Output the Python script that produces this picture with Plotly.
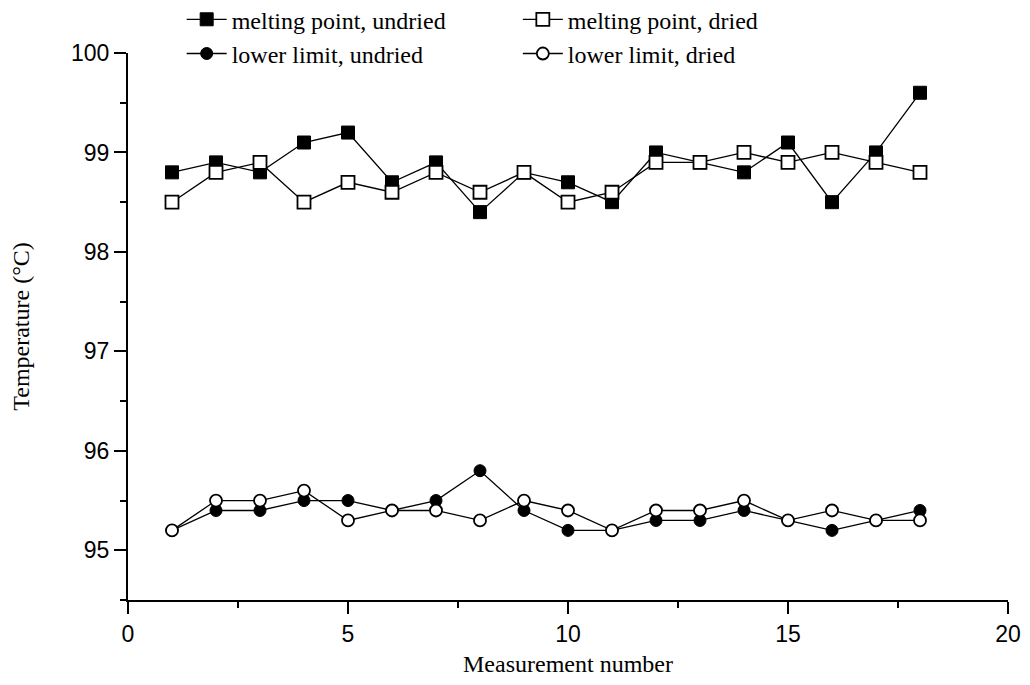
import plotly.graph_objects as go

measurement = list(range(1, 19))
melt_undried = [98.8, 98.9, 98.8, 99.1, 99.2, 98.7, 98.9, 98.4, 98.8, 98.7, 98.5, 99.0, 98.9, 98.8, 99.1, 98.5, 99.0, 99.6]
melt_dried = [98.5, 98.8, 98.9, 98.5, 98.7, 98.6, 98.8, 98.6, 98.8, 98.5, 98.6, 98.9, 98.9, 99.0, 98.9, 99.0, 98.9, 98.8]
lower_undried = [95.2, 95.4, 95.4, 95.5, 95.5, 95.4, 95.5, 95.8, 95.4, 95.2, 95.2, 95.3, 95.3, 95.4, 95.3, 95.2, 95.3, 95.4]
lower_dried = [95.2, 95.5, 95.5, 95.6, 95.3, 95.4, 95.4, 95.3, 95.5, 95.4, 95.2, 95.4, 95.4, 95.5, 95.3, 95.4, 95.3, 95.3]

names = ["melting point, undried", "lower limit, undried", "melting point, dried", "lower limit, dried"]

fig = go.Figure()

line_style = dict(color="black", width=1.3)

fig.add_trace(go.Scatter(x=measurement, y=melt_undried, mode="lines+markers", name=names[0],
                         line=line_style, legend="legend", legendgroup="a",
                         marker=dict(symbol="square", size=13, color="black", line=dict(color="black", width=1))))
fig.add_trace(go.Scatter(x=measurement, y=lower_undried, mode="lines+markers", name=names[1],
                         line=line_style, legend="legend", legendgroup="b",
                         marker=dict(symbol="circle", size=12, color="black", line=dict(color="black", width=1))))
fig.add_trace(go.Scatter(x=measurement, y=melt_dried, mode="lines+markers", name=names[2],
                         line=line_style, legend="legend2", legendgroup="c",
                         marker=dict(symbol="square", size=13, color="white", line=dict(color="black", width=1.8))))
fig.add_trace(go.Scatter(x=measurement, y=lower_dried, mode="lines+markers", name=names[3],
                         line=line_style, legend="legend2", legendgroup="d",
                         marker=dict(symbol="circle", size=12, color="white", line=dict(color="black", width=1.8))))

legend_font = dict(family="Liberation Serif, Times New Roman, serif", size=24, color="black")
title_font = dict(family="Liberation Serif, Times New Roman, serif", size=24, color="black")
tick_font = dict(family="Liberation Sans, Arial, sans-serif", size=23, color="black")

fig.update_layout(
    width=1014, height=669,
    margin=dict(l=120, r=14, t=45, b=77, autoexpand=False),
    plot_bgcolor="white", paper_bgcolor="white",
    legend=dict(x=0.061, y=1.102, xanchor="left", yanchor="top", font=legend_font,
                bgcolor="rgba(0,0,0,0)", tracegroupgap=0, itemwidth=40),
    legend2=dict(x=0.443, y=1.102, xanchor="left", yanchor="top", font=legend_font,
                 bgcolor="rgba(0,0,0,0)", tracegroupgap=0, itemwidth=40),
    xaxis=dict(range=[0, 20], dtick=5, tick0=0, showline=True, linecolor="black", linewidth=2,
               ticks="outside", ticklen=12, tickwidth=2, tickcolor="black",
               showgrid=False, zeroline=False, tickfont=tick_font, ticklabeloverflow="allow",
               minor=dict(dtick=2.5, ticks="outside", ticklen=6, tickwidth=2, tickcolor="black", showgrid=False),
               title=dict(text="Measurement number", standoff=32, font=title_font)),
    yaxis=dict(range=[94.5, 100], dtick=1, tick0=95, showline=True, linecolor="black", linewidth=2,
               ticks="outside", ticklen=12, tickwidth=2, tickcolor="black",
               showgrid=False, zeroline=False, tickfont=tick_font,
               minor=dict(dtick=0.5, ticks="outside", ticklen=6, tickwidth=2, tickcolor="black", showgrid=False),
               title=dict(text="Temperature (°C)", standoff=45, font=title_font)),
)

fig.write_html("out.html")
